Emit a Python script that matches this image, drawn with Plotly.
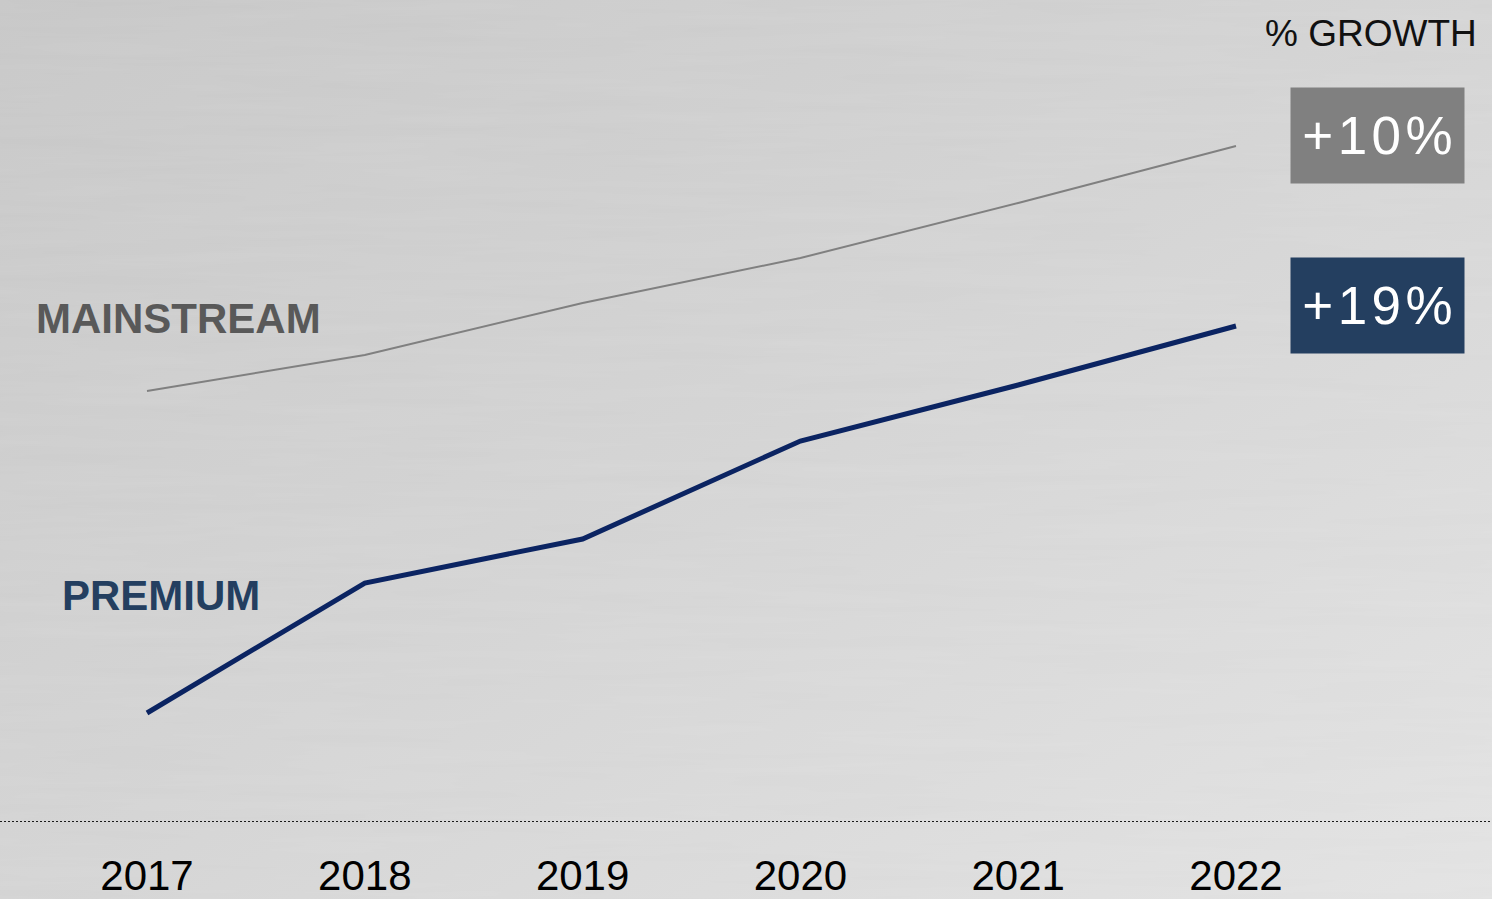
import base64
import plotly.graph_objects as go

# Series data (index values)
years = [2017, 2018, 2019, 2020, 2021, 2022]
mainstream = [43.1, 46.7, 51.9, 56.4, 61.9, 67.6]
premium = [10.9, 23.9, 28.3, 38.1, 43.7, 49.6]
growth_labels = ["+10%", "+19%"]
series_names = ["MAINSTREAM", "PREMIUM"]

W, H = 1492, 899
FONT = "Liberation Sans, Arial, sans-serif"
GRAY = "#808080"
NAVY_LINE = "#0b2462"
NAVY_BOX = "#243f60"


def px_x(p):
    return p / W


def px_y(p):
    return (H - p) / H


# Soft brushed-gray backdrop
svg = f"""<svg xmlns='http://www.w3.org/2000/svg' width='{W}' height='{H}'>
<defs>
<linearGradient id='g' x1='0' y1='0' x2='1' y2='1'>
<stop offset='0' stop-color='#c6c6c6'/>
<stop offset='0.5' stop-color='#d3d3d3'/>
<stop offset='1' stop-color='#e2e2e2'/>
</linearGradient>
<filter id='n' x='0' y='0' width='100%' height='100%'>
<feTurbulence type='fractalNoise' baseFrequency='0.004 0.08' numOctaves='3' seed='4'/>
<feColorMatrix type='matrix' values='0 0 0 0 1  0 0 0 0 1  0 0 0 0 1  0 0 0 0.10 0'/>
</filter>
</defs>
<rect width='100%' height='100%' fill='url(#g)'/>
<rect width='100%' height='100%' filter='url(#n)'/>
</svg>"""
bg_uri = "data:image/svg+xml;base64," + base64.b64encode(svg.encode()).decode()

fig = go.Figure()
fig.add_trace(go.Scatter(x=years, y=mainstream, mode="lines",
                         line=dict(color=GRAY, width=2), hoverinfo="skip"))
fig.add_trace(go.Scatter(x=years, y=premium, mode="lines",
                         line=dict(color=NAVY_LINE, width=5), hoverinfo="skip"))

x0_px, x1_px = 147, 1236
per_px = (years[-1] - years[0]) / (x1_px - x0_px)
x_range = [years[0] - x0_px * per_px, years[-1] + (W - x1_px) * per_px]

base_px = 822
fig.update_layout(
    width=W, height=H,
    margin=dict(l=0, r=0, t=0, b=0),
    paper_bgcolor="#d4d4d4",
    plot_bgcolor="rgba(0,0,0,0)",
    showlegend=False,
    font=dict(family=FONT, color="#000000"),
    xaxis=dict(domain=[0, 1], range=x_range, tickvals=years,
               ticktext=[str(y) for y in years], showgrid=False,
               zeroline=False, showline=False, ticks="",
               tickfont=dict(family=FONT, size=42, color="#000000"),
               ticklabelstandoff=25),
    yaxis=dict(domain=[px_y(base_px), 1], range=[0, base_px / 10],
               visible=False),
    images=[dict(source=bg_uri, xref="paper", yref="paper", x=0, y=1,
                 sizex=1, sizey=1, sizing="stretch", layer="below")],
    shapes=[dict(type="line", xref="paper", yref="y", x0=0, x1=1, y0=0, y1=0,
                 line=dict(color="#1a1a1a", width=2, dash="2px,2px"))],
)

annotations = [
    dict(text="% GROWTH", x=px_x(1479), y=px_y(33), xanchor="right",
         yanchor="middle", font=dict(size=37, color="#111111")),
    dict(text=f"<b>{series_names[0]}</b>", x=px_x(34), y=px_y(318),
         xanchor="left", yanchor="middle", font=dict(size=42, color="#595959")),
    dict(text=f"<b>{series_names[1]}</b>", x=px_x(60), y=px_y(595),
         xanchor="left", yanchor="middle", font=dict(size=42, color=NAVY_BOX)),
]
for label, color, cy in [(growth_labels[0], GRAY, 135), (growth_labels[1], NAVY_BOX, 305)]:
    annotations.append(dict(
        text="\u200a".join(label), x=px_x(1377.5), y=px_y(cy),
        xanchor="center", yanchor="middle", width=173, height=95,
        bgcolor=color, borderpad=0, align="center", valign="middle",
        font=dict(size=53, color="#ffffff")))
for a in annotations:
    a.update(xref="paper", yref="paper", showarrow=False)
    a.setdefault("font", {})
    a["font"]["family"] = FONT
fig.update_layout(annotations=annotations)

fig.write_html("out.html")
